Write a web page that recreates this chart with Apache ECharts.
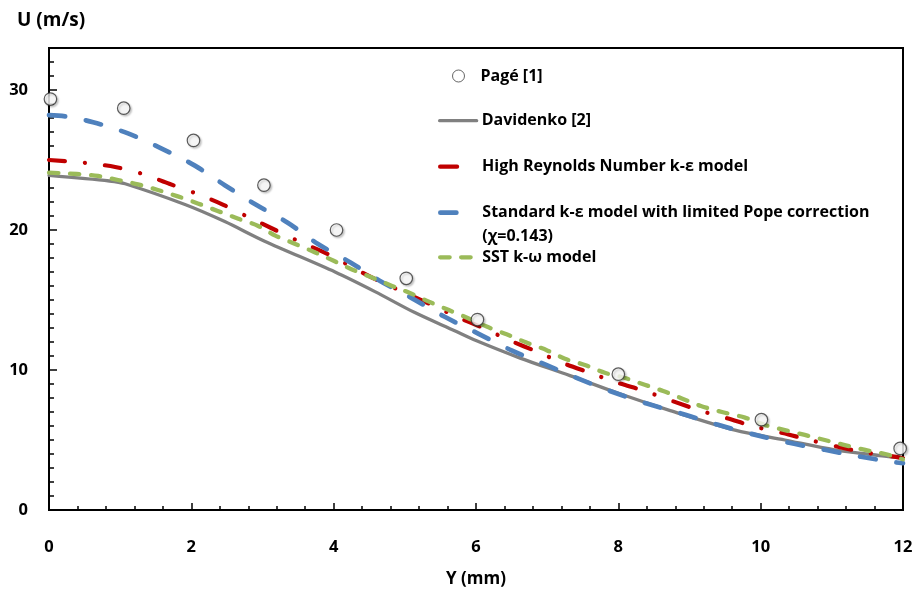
<!DOCTYPE html>
<html><head><meta charset="utf-8">
<script src="https://cdn.jsdelivr.net/npm/echarts@6/dist/echarts.min.js"></script>
<style>html,body{margin:0;padding:0;background:#fff}#c{width:917px;height:590px}</style>
</head><body><div id="c"></div>
<script>
// ---- data ----
const xTickLabels = ['0', '2', '4', '6', '8', '10', '12'];
const yTickLabels = ['0', '10', '20', '30'];

const pageName = 'Pagé [1]';
const pageY = [0.02, 1.05, 2.03, 3.02, 4.04, 5.02, 6.02, 8.0, 10.01, 11.96];
const pageU = [29.35, 28.7, 26.4, 23.2, 20.0, 16.55, 13.6, 9.7, 6.45, 4.4];

const davName = 'Davidenko [2]';
const davY = [0, 0.85, 1.07, 1.92, 2.47, 3.03, 4.02, 4.58, 5.14, 5.7, 6.0, 6.62, 7.32, 8.02, 8.73, 9.64, 10.34, 11.04, 11.74, 12];
const davU = [23.9, 23.5, 23.3, 21.8, 20.6, 19.2, 17.0, 15.6, 14.1, 12.8, 12.1, 10.85, 9.6, 8.3, 7.1, 5.7, 5.0, 4.3, 3.85, 3.7];

const hreName = 'High Reynolds Number k-ε model';
const hreY = [0, 0.5, 0.93, 1.32, 1.69, 2.07, 2.45, 2.81, 3.18, 3.55, 3.91, 4.54, 5.4, 5.73, 6.1, 6.48, 6.86, 7.22, 7.6, 7.98, 8.37, 8.75, 9.15, 9.53, 9.92, 10.31, 10.69, 11.1, 11.48, 11.9, 12];
const hreU = [25.0, 24.8, 24.5, 24.0, 23.3, 22.6, 21.8, 20.9, 20.0, 19.1, 18.3, 16.6, 14.6, 13.8, 13.0, 12.1, 11.3, 10.5, 9.8, 9.1, 8.5, 7.8, 7.1, 6.55, 5.95, 5.5, 5.0, 4.5, 4.1, 3.8, 3.7];

const popeName = 'Standard k-ε model with limited Pope correction\n(χ=0.143)';
const popeY = [0, 0.25, 0.62, 1.11, 1.59, 2.05, 2.47, 2.91, 3.36, 3.78, 4.23, 4.64, 5.11, 5.56, 6.03, 6.5, 6.97, 7.43, 7.91, 8.4, 8.88, 9.39, 9.9, 10.4, 10.9, 11.41, 11.9, 12];
const popeU = [28.2, 28.1, 27.7, 26.9, 25.8, 24.6, 23.2, 21.8, 20.5, 19.0, 17.7, 16.4, 15.1, 13.8, 12.6, 11.4, 10.4, 9.4, 8.45, 7.6, 6.9, 6.1, 5.4, 4.8, 4.3, 3.8, 3.4, 3.35];

const sstName = 'SST k-ω model';
const sstY = [0, 0.39, 0.69, 0.97, 1.25, 1.53, 1.81, 2.09, 2.37, 2.66, 2.94, 3.18, 3.46, 3.74, 4.0, 4.25, 4.54, 4.82, 5.07, 5.33, 5.61, 5.89, 6.15, 6.43, 6.7, 7.0, 7.25, 7.53, 7.81, 8.08, 8.37, 8.63, 8.9, 9.16, 9.47, 9.78, 10.06, 10.34, 10.62, 10.9, 11.18, 11.47, 11.75, 12];
const sstU = [24.1, 24.0, 23.86, 23.57, 23.26, 22.86, 22.4, 21.9, 21.36, 20.8, 20.29, 19.6, 19.0, 18.4, 17.8, 17.2, 16.6, 16.0, 15.5, 14.9, 14.3, 13.7, 13.1, 12.55, 11.98, 11.4, 10.8, 10.36, 9.8, 9.45, 8.95, 8.5, 7.95, 7.43, 6.98, 6.6, 6.07, 5.71, 5.36, 5.0, 4.64, 4.29, 4.0, 3.62];

// ---- chart ----
const FONT = 'Open Sans';
const pairs = (xs, ys) => xs.map((x, i) => [x, ys[i]]);
const txt = (size) => ({ fontFamily: FONT, fontSize: size, fontWeight: 'bold', color: '#000' });

const chart = echarts.init(document.getElementById('c'), null, { renderer: 'canvas' });

const hiddenSymbol = { color: 'rgba(0,0,0,0)', borderColor: 'rgba(0,0,0,0)', borderWidth: 0, opacity: 0 };
const legendBase = {
  orient: 'vertical', padding: 0, itemGap: 0, selectedMode: false,
  left: 438, itemWidth: 37, itemHeight: 14,
  textStyle: Object.assign(txt(16), { lineHeight: 20 })
};

chart.setOption({
  animation: false,
  backgroundColor: '#fff',
  title: {
    text: 'U (m/s)', left: 17, top: 11, padding: 0,
    textStyle: txt(19)
  },
  grid: {
    left: 49, right: 14, top: 48, bottom: 80,
    show: true, borderColor: '#000', borderWidth: 2,
    containLabel: false, outerBoundsMode: 'none'
  },
  xAxis: {
    type: 'value', min: 0, max: 12, interval: 2,
    axisLine: { show: true, onZero: false, lineStyle: { color: '#000', width: 2 } },
    axisTick: { show: true, inside: true, length: 7, lineStyle: { color: '#000', width: 1.5 } },
    minorTick: { show: true, splitNumber: 5, length: 4, lineStyle: { color: '#000', width: 1.5 } },
    splitLine: { show: false },
    axisLabel: Object.assign(txt(16.5), { margin: 29, formatter: (v) => xTickLabels[Math.round(v / 2)] }),
    name: 'Y (mm)', nameLocation: 'middle', nameGap: 61,
    nameTextStyle: txt(17)
  },
  yAxis: [
    {
      type: 'value', min: 0, max: 33, interval: 10,
      axisLine: { show: true, onZero: false, lineStyle: { color: '#000', width: 2 } },
      axisTick: { show: true, inside: true, length: 8, lineStyle: { color: '#000', width: 1.5 } },
      splitLine: { show: false },
      axisLabel: Object.assign(txt(16.5), {
        margin: 21, showMaxLabel: false,
        formatter: (v) => (v % 10 === 0 ? yTickLabels[v / 10] : '')
      })
    },
    {
      type: 'value', min: 0, max: 33, interval: 1, position: 'left',
      axisLine: { show: false },
      axisTick: { show: true, inside: true, length: 5, lineStyle: { color: '#000', width: 1.5 } },
      axisLabel: { show: false },
      splitLine: { show: false }
    }
  ],
  legend: [
    Object.assign({}, legendBase, {
      data: [pageName], left: 452, top: 66, icon: 'circle', itemWidth: 12, itemHeight: 12,
      itemStyle: { color: '#fff', borderColor: '#404040', borderWidth: 1, shadowBlur: 0, shadowOffsetX: 0, shadowOffsetY: 0 },
      formatter: (name) => '{pad| }{t|' + name + '}',
      textStyle: Object.assign(txt(16), {
        lineHeight: 20,
        rich: { pad: { width: 11, fontSize: 16 }, t: Object.assign(txt(16), { lineHeight: 20 }) }
      })
    }),
    Object.assign({}, legendBase, { data: [davName], top: 110.7, itemStyle: hiddenSymbol, lineStyle: { width: 3.3, cap: 'round' } }),
    Object.assign({}, legendBase, { data: [hreName], top: 156.7, itemStyle: hiddenSymbol, lineStyle: { width: 4.2, cap: 'round', type: [17, 100] } }),
    Object.assign({}, legendBase, {
      data: [popeName], top: 176.7, itemStyle: hiddenSymbol, lineStyle: { width: 4.7, cap: 'round' },
      formatter: (name) => '\n' + name,
      textStyle: Object.assign(txt(16), { lineHeight: 24 })
    }),
    Object.assign({}, legendBase, { data: [sstName], top: 247.3, itemStyle: hiddenSymbol, lineStyle: { width: 4.3, cap: 'round' } })
  ],
  series: [
    {
      name: davName, type: 'line', data: pairs(davY, davU),
      symbol: 'none', showSymbol: false, smooth: 0.3, z: 2,
      color: '#808080',
      lineStyle: { color: '#808080', width: 3.3, cap: 'round', join: 'round' }
    },
    {
      name: hreName, type: 'line', data: pairs(hreY, hreU),
      symbol: 'none', showSymbol: false, smooth: 0.3, z: 3,
      color: '#C00000',
      lineStyle: { color: '#C00000', width: 4.2, type: [16, 20, 0.1, 20], cap: 'round', join: 'round' }
    },
    {
      name: popeName, type: 'line', data: pairs(popeY, popeU),
      symbol: 'none', showSymbol: false, smooth: 0.3, z: 4,
      color: '#4F81BD',
      lineStyle: { color: '#4F81BD', width: 4.7, type: [16, 21], cap: 'round', join: 'round' }
    },
    {
      name: sstName, type: 'line', data: pairs(sstY, sstU),
      symbol: 'none', showSymbol: false, smooth: 0.3, z: 5,
      color: '#9BBB59',
      lineStyle: { color: '#9BBB59', width: 4.3, type: [9.5, 11.5], cap: 'round', join: 'round' }
    },
    {
      name: pageName, type: 'scatter', data: pairs(pageY, pageU),
      symbol: 'circle', symbolSize: 12.5, z: 6,
      itemStyle: {
        color: '#ffffff', borderColor: '#333333', borderWidth: 1.2,
        shadowBlur: 2, shadowColor: 'rgba(0,0,0,0.25)', shadowOffsetX: 1.5, shadowOffsetY: 1.5
      }
    }
  ]
});
</script>
</body></html>
